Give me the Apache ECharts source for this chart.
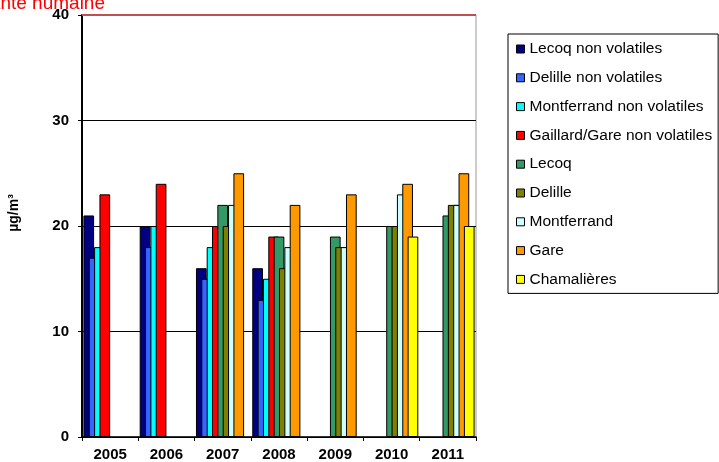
<!DOCTYPE html>
<html>
<head>
<meta charset="utf-8">
<script src="https://cdn.jsdelivr.net/npm/echarts@6/dist/echarts.min.js"></script>
<style>
  html, body { margin: 0; padding: 0; background: #fff; }
  #chart { width: 719px; height: 462px; }
</style>
</head>
<body>
<div id="chart"></div>
<script>
// Annual means of particulate matter per station (µg/m³)
const years = ['2005', '2006', '2007', '2008', '2009', '2010', '2011'];

const seriesNames = [
  'Lecoq non volatiles',
  'Delille non volatiles',
  'Montferrand non volatiles',
  'Gaillard/Gare non volatiles',
  'Lecoq',
  'Delille',
  'Montferrand',
  'Gare',
  'Chamalières'
];

const lecoqNV       = [21, 20, 16, 16, null, null, null];
const delilleNV     = [17, 18, 15, 13, null, null, null];
const montferrandNV = [18, 20, 18, 15, null, null, null];
const gaillardNV    = [23, 24, 20, 19, null, null, null];
const lecoq         = [null, null, 22, 19, 19, 20, 21];
const delille       = [null, null, 20, 16, 18, 20, 22];
const montferrand   = [null, null, 22, 18, 18, 23, 22];
const gare          = [null, null, 25, 22, 23, 24, 25];
const chamalieres   = [null, null, null, null, null, 19, 20];

const yTicks = [0, 10, 20, 30, 40];
const limitValue = 40;
const limitLabel = 'Valeur limite pour la protection de la santé humaine';
const unitLabel = 'µg/m³';

const seriesData = [lecoqNV, delilleNV, montferrandNV, gaillardNV,
                    lecoq, delille, montferrand, gare, chamalieres];
const seriesColors = ['#000080', '#3366FF', '#00FFFF', '#FF0000',
                      '#339966', '#808000', '#CCFFFF', '#FF9900', '#FFFF00'];

const font = '"Liberation Sans", Arial, sans-serif';

const chart = echarts.init(document.getElementById('chart'), null, { renderer: 'canvas' });

const series = seriesNames.map((name, i) => {
  const s = {
    name: name,
    type: 'bar',
    data: seriesData[i],
    barGap: '-50%',
    barCategoryGap: '5%',
    itemStyle: { color: seriesColors[i], borderColor: '#000', borderWidth: 1 },
    emphasis: { disabled: true },
    animation: false
  };
  if (i === 0) {
    // limit value drawn as a red horizontal line across the plot
    s.markLine = {
      silent: true,
      symbol: 'none',
      label: { show: false },
      lineStyle: { color: '#C0504D', width: 2, type: 'solid' },
      data: [{ yAxis: limitValue }],
      animation: false
    };
  }
  return s;
});

chart.setOption({
  backgroundColor: '#fff',
  animation: false,
  grid: {
    left: 82, right: 243, top: 15, bottom: 24,
    show: true, borderColor: '#999', borderWidth: 1
  },
  legend: {
    orient: 'vertical',
    left: 508, top: 34,
    padding: [7, 6, 6, 8],
    itemGap: 12.8,
    itemWidth: 8, itemHeight: 8,
    icon: 'rect',
    borderColor: '#000', borderWidth: 1,
    itemStyle: { borderColor: '#000', borderWidth: 1 },
    textStyle: { fontFamily: font, fontSize: 15.5, color: '#000', lineHeight: 16 },
    data: seriesNames
  },
  xAxis: {
    type: 'category',
    data: years,
    axisLine: { lineStyle: { color: '#000', width: 1.5 } },
    axisTick: { show: true, inside: false, length: 4, lineStyle: { color: '#000' } },
    axisLabel: { fontFamily: font, fontSize: 15, fontWeight: 'bold', color: '#000', margin: 10 },
    splitLine: { show: false }
  },
  yAxis: {
    type: 'value',
    min: yTicks[0], max: yTicks[yTicks.length - 1], interval: 10,
    axisLine: { show: true, lineStyle: { color: '#000', width: 2 } },
    axisTick: { show: true, inside: false, length: 4, lineStyle: { color: '#000' } },
    axisLabel: { fontFamily: font, fontSize: 15, fontWeight: 'bold', color: '#000', margin: 13 },
    splitLine: { show: true, lineStyle: { color: '#000', width: 1 } }
  },
  graphic: [
    {
      type: 'text',
      x: 105, y: 13,
      style: {
        text: limitLabel, fill: '#FF0000',
        font: '19px ' + font,
        textAlign: 'right', textVerticalAlign: 'bottom'
      }
    },
    {
      type: 'text',
      x: 14, y: 213, rotation: Math.PI / 2,
      style: {
        text: unitLabel, fill: '#000',
        font: 'bold 14px ' + font,
        textAlign: 'center', textVerticalAlign: 'middle'
      }
    }
  ],
  series: series
});
</script>
</body>
</html>
